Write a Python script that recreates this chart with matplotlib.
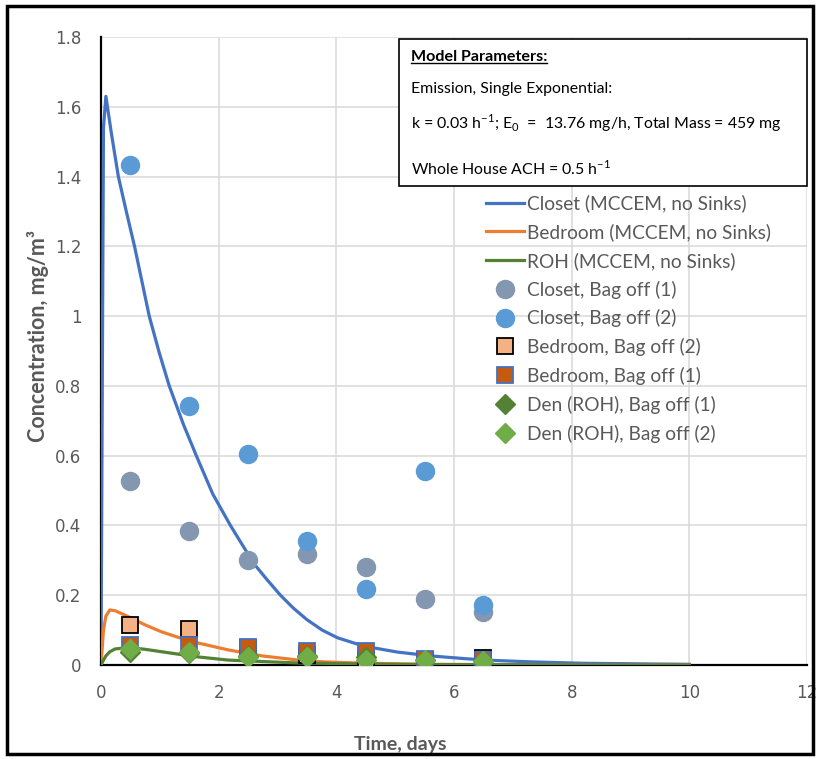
import matplotlib
matplotlib.use('Agg')
import matplotlib.pyplot as plt
from matplotlib.lines import Line2D
from matplotlib.patches import Rectangle

# Model curves, time in days, concentration in mg/m3
closet_t = [0, 0.042, 0.083, 0.18, 0.295, 0.43, 0.57, 0.695, 0.82, 0.99, 1.16, 1.28, 1.4,
            1.51, 1.62, 1.76, 1.9, 2.05, 2.2, 2.4, 2.6, 2.82, 3.05, 3.27, 3.5, 3.76, 4.02,
            4.47, 5.04, 5.61, 6.2, 6.69, 7.31, 8.17, 9.3, 10]
closet_c = [0, 1.54, 1.63, 1.52, 1.40, 1.30, 1.20, 1.10, 1.00, 0.895, 0.80, 0.745, 0.69,
            0.645, 0.60, 0.545, 0.49, 0.445, 0.40, 0.345, 0.29, 0.245, 0.20, 0.163, 0.13,
            0.10, 0.078, 0.054, 0.037, 0.026, 0.018, 0.013, 0.009, 0.005, 0.003, 0.002]

bedroom_t = [0, 0.042, 0.083, 0.15, 0.25, 0.47, 0.75, 1.03, 1.3, 1.6, 2.17, 2.74, 3.31,
             3.78, 4.5, 5.5, 7, 10]
bedroom_c = [0, 0.10, 0.14, 0.158, 0.155, 0.138, 0.115, 0.095, 0.08, 0.065, 0.043, 0.026,
             0.015, 0.009, 0.005, 0.002, 0.001, 0.0]

roh_t = [0, 0.042, 0.083, 0.15, 0.24, 0.47, 0.75, 1.03, 1.6, 2.17, 2.74, 3.31, 4, 5, 6, 8, 10]
roh_c = [0, 0.014, 0.026, 0.038, 0.046, 0.05, 0.045, 0.038, 0.024, 0.014, 0.01, 0.006,
         0.004, 0.002, 0.001, 0.0005, 0.0]

# Measured data
days = [0.5, 1.5, 2.5, 3.5, 4.5, 5.5, 6.5]
closet_1 = [0.526, 0.383, 0.30, 0.317, 0.281, 0.19, 0.152]
closet_2 = [1.434, 0.743, 0.604, 0.354, 0.218, 0.556, 0.172]
bedroom_2 = [0.115, 0.102, 0.05, 0.03, 0.016, 0.013, 0.019]
bedroom_1 = [0.057, 0.057, 0.052, 0.040, 0.040, 0.016, 0.013]
den_1 = [0.037, 0.033, 0.027, 0.027, 0.022, 0.014, 0.012]
den_2 = [0.045, 0.038, 0.024, 0.024, 0.015, 0.014, 0.012]

gray = '#595959'

fig = plt.figure(figsize=(8.17, 7.59), dpi=100)
ax = fig.add_axes([101 / 817, 1 - 665 / 759, 706 / 817, 628 / 759])

ax.plot(closet_t, closet_c, color='#4472C4', lw=2.3, label='Closet (MCCEM, no Sinks)')
ax.plot(bedroom_t, bedroom_c, color='#ED7D31', lw=2.3, label='Bedroom (MCCEM, no Sinks)')
ax.plot(roh_t, roh_c, color='#548235', lw=2.3, label='ROH (MCCEM, no Sinks)')

ax.plot(days, closet_1, 'o', ms=13, color='#8497B0', mec='#8497B0', label='Closet, Bag off (1)')
ax.plot(days, closet_2, 'o', ms=13, color='#5B9BD5', mec='#5B9BD5', label='Closet, Bag off (2)')
ax.plot(days, bedroom_2, 's', ms=11.5, color='#F4B183', mec='black', mew=1.3,
        label='Bedroom, Bag off (2)')
ax.plot(days, bedroom_1, 's', ms=11.5, color='#C55A11', mec='#4472C4', mew=1.3,
        label='Bedroom, Bag off (1)')
ax.plot(days, den_1, 'D', ms=10, color='#548235', mec='#548235', label='Den (ROH), Bag off (1)')
ax.plot(days, den_2, 'D', ms=10, color='#70AD47', mec='#70AD47', label='Den (ROH), Bag off (2)')

ax.set_xlim(0, 12)
ax.set_ylim(0, 1.8)
ax.set_xticks(range(0, 13, 2))
ax.set_yticks([0, 0.2, 0.4, 0.6, 0.8, 1.0, 1.2, 1.4, 1.6, 1.8])
ax.set_yticklabels(['0', '0.2', '0.4', '0.6', '0.8', '1', '1.2', '1.4', '1.6', '1.8'])
ax.tick_params(length=0, labelsize=12, labelcolor=gray, pad=14)
ax.grid(True, color='#D9D9D9', lw=1.1)
ax.set_axisbelow(True)
for s in ['top', 'right']:
    ax.spines[s].set_visible(False)
for s in ['left', 'bottom']:
    ax.spines[s].set_color('black')
    ax.spines[s].set_linewidth(1.6)
    ax.spines[s].set_zorder(1.5)

ax.set_xlabel('Time, days', fontsize=14, fontweight='bold', color=gray, family='Lato')
ax.xaxis.set_label_coords((400 - 101) / 706, (665 - 736) / 628)
ax.set_ylabel('Concentration, mg/m³', fontsize=15.5, fontweight='bold', color=gray,
              family='Lato')
ax.yaxis.set_label_coords((49 - 101) / 706, (665 - 336) / 628)

leg = ax.legend(loc='upper left', bbox_to_anchor=(476 / 817, 1 - 185 / 759),
                bbox_transform=fig.transFigure, frameon=False,
                labelspacing=0.56, handlelength=2.0, handletextpad=0.15,
                borderpad=0, prop={'family': 'Lato', 'size': 13.8})
for txt in leg.get_texts():
    txt.set_color(gray)

# Parameters box
fig.patches.append(Rectangle((399 / 817, 1 - 186 / 759), 408 / 817, 147 / 759,
                             transform=fig.transFigure, facecolor='white',
                             edgecolor='black', lw=1.2, zorder=5))
fs_box = 11.4
title = fig.text(411 / 817, 1 - 57 / 759, 'Model Parameters:', fontsize=11.6,
                 fontweight='bold', family='Lato', va='center', zorder=6)
fig.text(411 / 817, 1 - 89 / 759, 'Emission, Single Exponential:', fontsize=fs_box,
         family='Lato', va='center', zorder=6)
fig.text(411 / 817, 1 - 123 / 759,
         'k = 0.03 h$^{\\mathregular{-1}}$; E$_{\\mathregular{0}}$  =  13.76 mg/h, Total Mass = 459 mg',
         fontsize=fs_box, family='Lato', va='center', zorder=6)
fig.text(411 / 817, 1 - 168 / 759, 'Whole House ACH = 0.5 h$^{\\mathregular{-1}}$',
         fontsize=fs_box, family='Lato', va='center', zorder=6)

# underline for the box title
fig.canvas.draw()
bb = title.get_window_extent().transformed(fig.transFigure.inverted())
fig.lines.append(Line2D([bb.x0, bb.x1], [bb.y0 + 0.001, bb.y0 + 0.001],
                        transform=fig.transFigure, color='black', lw=1.0, zorder=6))

# outer chart frame
fig.patches.append(Rectangle((7 / 817, 5 / 759), 806 / 817, 748 / 759,
                             transform=fig.transFigure, fill=False,
                             edgecolor='black', lw=2.5, zorder=10))

fig.savefig('out.png', dpi=100)
